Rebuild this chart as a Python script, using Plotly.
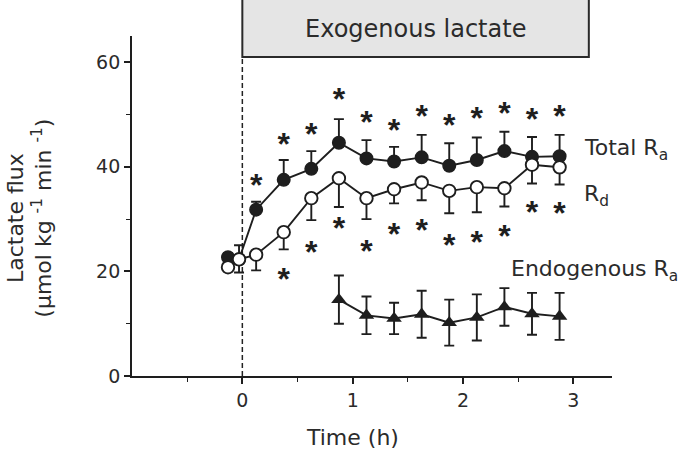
import plotly.graph_objects as go

# ---- data ----
time_base = [-0.13, -0.03]
time_h = [0.125, 0.375, 0.625, 0.875, 1.125, 1.375, 1.625, 1.875, 2.125, 2.375, 2.625, 2.875]

total_ra_base = [22.7, 22.3]
total_ra = [31.8, 37.5, 39.6, 44.6, 41.6, 41.0, 41.8, 40.2, 41.3, 43.0, 41.9, 42.0]
total_ra_base_err = [0.8, 2.7]
total_ra_err = [1.5, 3.8, 3.4, 4.5, 3.5, 2.8, 4.3, 4.3, 4.3, 3.7, 3.8, 4.1]

rd_base = [20.8, 22.3]
rd = [23.2, 27.5, 34.0, 37.8, 34.0, 35.7, 37.0, 35.4, 36.1, 35.9, 40.4, 39.9]
rd_base_err = [0.8, 2.5]
rd_err = [3.0, 3.3, 4.2, 5.5, 4.0, 2.7, 3.4, 4.3, 4.8, 3.5, 3.6, 3.3]

endo_time = [0.875, 1.125, 1.375, 1.625, 1.875, 2.125, 2.375, 2.625, 2.875]
endo_ra = [14.6, 11.6, 11.0, 11.8, 10.2, 11.2, 13.2, 11.9, 11.4]
endo_err = [4.6, 3.6, 3.0, 4.5, 4.4, 4.4, 3.6, 4.0, 4.5]

star_top_time = time_h
star_top_y = [37.2, 45.1, 47.0, 53.6, 49.3, 47.8, 50.3, 48.6, 50.0, 51.0, 49.9, 50.3]
star_bot_time = time_h[1:]
star_bot_y = [19.2, 24.3, 29.0, 24.6, 27.9, 28.6, 25.8, 26.2, 27.4, 32.1, 31.9]

x_ticks = [0, 1, 2, 3]
y_ticks = [0, 20, 40, 60]

INK = "#1e1e1e"
TXT = "#2b2b2b"
FONT = "DejaVu Sans, Liberation Sans, Arial, sans-serif"
STARFONT = "Liberation Sans, Arial, sans-serif"
STAR_GLYPH_DROP = 1.25  # the '*' glyph sits high in its text box; compensate

fig = go.Figure()

# infusion start dashed line
fig.add_shape(type="line", xref="x", yref="y", x0=0, x1=0, y0=0, y1=61,
              line=dict(color="#222222", width=1.5, dash="5px,3px"), layer="below")

# Total Ra
fig.add_trace(go.Scatter(
    x=time_base + time_h, y=total_ra_base + total_ra, mode="lines+markers",
    line=dict(color=INK, width=1.9),
    marker=dict(symbol="circle", size=12.5, color=INK, line=dict(color=INK, width=1.5)),
    error_y=dict(type="data", symmetric=False, array=total_ra_base_err + total_ra_err,
                 arrayminus=[0] * 14, color=INK, thickness=1.9, width=5),
    cliponaxis=False, showlegend=False))

# Rd
fig.add_trace(go.Scatter(
    x=time_base + time_h, y=rd_base + rd, mode="lines+markers",
    line=dict(color=INK, width=1.9),
    marker=dict(symbol="circle", size=12.5, color="white", line=dict(color=INK, width=1.9)),
    error_y=dict(type="data", symmetric=False, array=[0] * 14,
                 arrayminus=rd_base_err + rd_err, color=INK, thickness=1.9, width=5),
    cliponaxis=False, showlegend=False))

# Endogenous Ra
fig.add_trace(go.Scatter(
    x=endo_time, y=endo_ra, mode="lines+markers",
    line=dict(color=INK, width=1.9),
    marker=dict(symbol="triangle-up", size=13.5, color=INK),
    error_y=dict(type="data", array=endo_err, color=INK, thickness=1.9, width=5),
    cliponaxis=False, showlegend=False))

# significance asterisks
for xs, ys in ((star_top_time, star_top_y), (star_bot_time, star_bot_y)):
    fig.add_trace(go.Scatter(
        x=xs, y=[v - STAR_GLYPH_DROP for v in ys], mode="text",
        text=["<b>*</b>"] * len(xs), textposition="middle center",
        textfont=dict(family=STARFONT, size=32, color=INK),
        cliponaxis=False, showlegend=False, hoverinfo="skip"))

# header box
fig.add_shape(type="rect", xref="x", yref="paper", x0=0, x1=3.14, y0=0.938, y1=1.11,
              fillcolor="#e5e5e5", line=dict(color="#2a2a2a", width=2))
fig.add_annotation(xref="x", yref="paper", x=1.57, y=1.02, yanchor="middle",
                   text="Exogenous lactate", showarrow=False,
                   font=dict(family=FONT, size=24, color=TXT))

# series labels
fig.add_annotation(xref="x", yref="y", x=3.08, y=43.3, xanchor="left", yanchor="middle",
                   text="Total R<sub>a</sub>", showarrow=False,
                   font=dict(family=FONT, size=22, color=TXT))
fig.add_annotation(xref="x", yref="y", x=3.08, y=34.6, xanchor="left", yanchor="middle",
                   text="R<sub>d</sub>", showarrow=False,
                   font=dict(family=FONT, size=22, color=TXT))
fig.add_annotation(xref="x", yref="y", x=2.42, y=20.2, xanchor="left", yanchor="middle",
                   text="Endogenous R<sub>a</sub>", showarrow=False,
                   font=dict(family=FONT, size=22, color=TXT))

# axis titles
fig.add_annotation(xref="x", yref="paper", x=1.0, y=-0.18, yanchor="middle",
                   text="Time (h)", showarrow=False,
                   font=dict(family=FONT, size=22, color=TXT))
fig.add_annotation(xref="paper", yref="paper", x=-0.213, y=0.465, textangle=-90,
                   xanchor="center", yanchor="middle", align="center",
                   text="Lactate flux<br>(µmol kg <sup>-1</sup> min <sup>-1</sup>)",
                   showarrow=False, font=dict(family=FONT, size=22, color=TXT))

fig.update_xaxes(range=[-1.0, 3.35], tickvals=x_ticks, ticktext=[str(v) for v in x_ticks],
                 showline=True, linecolor=INK, linewidth=1.8, ticks="outside",
                 ticklen=6, tickwidth=1.6, tickcolor=INK, showgrid=False, zeroline=False,
                 minor=dict(tickvals=[-0.5, 0.5, 1.5, 2.5], ticks="outside", ticklen=4,
                            tickwidth=1.4, tickcolor=INK),
                 tickfont=dict(family=FONT, size=19, color=TXT))
fig.update_yaxes(range=[0, 65], tickvals=y_ticks, ticktext=[str(v) for v in y_ticks],
                 showline=True, linecolor=INK, linewidth=1.8, ticks="outside",
                 ticklen=6, tickwidth=1.6, tickcolor=INK, showgrid=False, zeroline=False,
                 minor=dict(tickvals=[10, 30, 50], ticks="outside", ticklen=4,
                            tickwidth=1.4, tickcolor=INK),
                 tickfont=dict(family=FONT, size=19, color=TXT))

fig.update_layout(width=680, height=458, plot_bgcolor="white", paper_bgcolor="white",
                  margin=dict(l=132, r=68, t=36, b=82), showlegend=False)

fig.write_html("out.html", config={"displayModeBar": False},
               post_script="document.body.style.margin='0px';")
